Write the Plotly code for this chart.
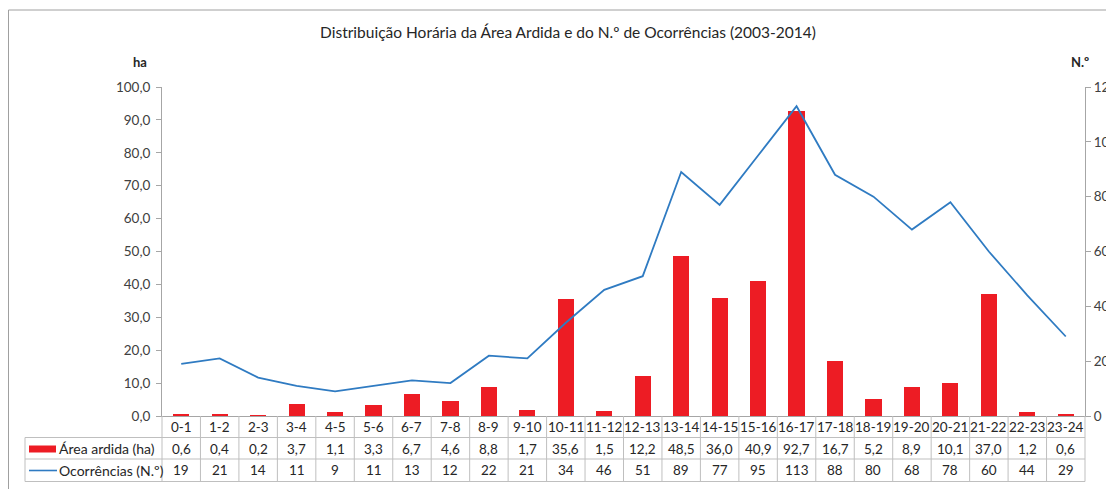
import plotly.graph_objects as go

# ---------------- data ----------------
hours = ["0-1", "1-2", "2-3", "3-4", "4-5", "5-6", "6-7", "7-8", "8-9", "9-10",
         "10-11", "11-12", "12-13", "13-14", "14-15", "15-16", "16-17", "17-18",
         "18-19", "19-20", "20-21", "21-22", "22-23", "23-24"]
area_ha = [0.6, 0.4, 0.2, 3.7, 1.1, 3.3, 6.7, 4.6, 8.8, 1.7, 35.6, 1.5, 12.2,
           48.5, 36.0, 40.9, 92.7, 16.7, 5.2, 8.9, 10.1, 37.0, 1.2, 0.6]
ocorrencias = [19, 21, 14, 11, 9, 11, 13, 12, 22, 21, 34, 46, 51, 89, 77, 95,
               113, 88, 80, 68, 78, 60, 44, 29]

title_text = "Distribuição Horária da Área Ardida e do N.º de Ocorrências (2003-2014)"
name_area = "Área ardida (ha)"
name_occ = "Ocorrências (N.º)"

# ---------------- style / layout constants ----------------
OFF = 8                      # page body margin
W, H = 1114 - OFF, 497 - 2 * OFF
# reference (window) pixel positions of plot area
RL, RR, RT, RB = 162, 1085, 87, 416
L, R, T, B = RL - OFF, RR - OFF, RT - OFF, RB - OFF
RED = "#ED1C24"
BLUE = "#2F7BC2"
GRID = "#BFBFBF"
AXC = "#A6A6A6"
TXT = "#262626"
FONT = "Lato"


def py(ypx):
    """window pixel y -> paper y"""
    return (B - (ypx - OFF)) / (B - T)


def px(xpx):
    """window pixel x -> paper x"""
    return ((xpx - OFF) - L) / (R - L)


fig = go.Figure()
fig.add_trace(go.Bar(x=hours, y=area_ha, name=name_area, marker_color=RED,
                     marker_line_width=0, width=0.42, yaxis="y"))
fig.add_trace(go.Scatter(x=hours, y=ocorrencias, name=name_occ, mode="lines",
                         line=dict(color=BLUE, width=1.8), yaxis="y2"))

shapes = []
annotations = []

# frame
shapes.append(dict(type="rect", xref="paper", yref="paper", x0=px(OFF + 0.5), x1=px(1300),
                   y0=py(700), y1=py(10), line=dict(color="#A0A0A0", width=1),
                   layer="below"))

# table rows (window pixel rows)
row_y = [416, 437.5, 459, 481.5]
for yy in row_y[1:]:
    shapes.append(dict(type="line", xref="paper", yref="paper", x0=px(25), x1=1,
                       y0=py(yy), y1=py(yy), line=dict(color=GRID, width=1)))
for i in range(1, len(hours)):
    shapes.append(dict(type="line", xref="x", yref="paper", x0=i - 0.5, x1=i - 0.5,
                       y0=py(row_y[0]), y1=py(row_y[-1]), line=dict(color=GRID, width=1)))
shapes.append(dict(type="line", xref="paper", yref="paper", x0=0, x1=0,
                   y0=py(row_y[0]), y1=py(row_y[-1]), line=dict(color=GRID, width=1)))
shapes.append(dict(type="line", xref="paper", yref="paper", x0=1, x1=1,
                   y0=py(row_y[0]), y1=py(row_y[-1]), line=dict(color=GRID, width=1)))
shapes.append(dict(type="line", xref="paper", yref="paper", x0=px(25), x1=px(25),
                   y0=py(row_y[1]), y1=py(row_y[-1]), line=dict(color=GRID, width=1)))

# legend keys
shapes.append(dict(type="rect", xref="paper", yref="paper", x0=px(29), x1=px(56),
                   y0=py(452.5), y1=py(445.5), fillcolor=RED, line=dict(width=0)))
shapes.append(dict(type="line", xref="paper", yref="paper", x0=px(29), x1=px(57),
                   y0=py(470.5), y1=py(470.5), line=dict(color=BLUE, width=1.6)))

tfont = dict(family=FONT, size=14, color=TXT)
hfont = dict(family=FONT, size=13.5, color=TXT)


def fmt(v):
    return f"{v:.1f}".replace(".", ",")


for h, a, o in zip(hours, area_ha, ocorrencias):
    for yy, txt in ((427, h), (448.5, fmt(a)), (470, str(o))):
        annotations.append(dict(x=h, xref="x", y=py(yy), yref="paper", text=txt,
                                xanchor="center", yanchor="middle",
                                showarrow=False, font=hfont))

annotations.append(dict(x=px(57), xref="paper", xanchor="left", y=py(448.5), yref="paper",
                        yanchor="middle", text=name_area, showarrow=False, font=tfont))
annotations.append(dict(x=px(57), xref="paper", xanchor="left", y=py(470), yref="paper",
                        yanchor="middle", text=name_occ, showarrow=False, font=tfont))

# axis unit labels
ufont = dict(family=FONT, size=13, color=TXT)
annotations.append(dict(x=px(140), xref="paper", xanchor="center", y=py(62), yref="paper",
                        yanchor="middle", text="<b>ha</b>", showarrow=False, font=ufont))
annotations.append(dict(x=px(1080), xref="paper", xanchor="center", y=py(62), yref="paper",
                        yanchor="middle", text="<b>N.º</b>", showarrow=False, font=ufont))

fig.update_layout(
    width=W, height=H,
    margin=dict(l=L, r=W - R, t=T, b=H - B, pad=0, autoexpand=False),
    paper_bgcolor="white", plot_bgcolor="white",
    separators=",.",
    showlegend=False,
    bargap=0,
    title=dict(text=title_text, x=(568 - OFF) / W, xanchor="center", xref="container",
               y=1 - (33 - OFF) / H, yanchor="middle", yref="container",
               font=dict(family=FONT, size=15.5, color=TXT)),
    xaxis=dict(type="category", range=[-0.5, len(hours) - 0.5], showticklabels=False,
               showgrid=False, zeroline=False, showline=True, linecolor=AXC,
               linewidth=1, ticks="", fixedrange=True, automargin=False),
    yaxis=dict(range=[0, 100], dtick=10, tickformat=".1f", showgrid=False,
               zeroline=False, showline=True, linecolor=AXC, linewidth=1,
               ticks="outside", ticklen=5, tickcolor=AXC, automargin=False,
               ticklabelstandoff=3,
               tickfont=dict(family=FONT, size=13.5, color="#404040")),
    yaxis2=dict(range=[0, 120], dtick=20, tickformat="d", overlaying="y", side="right",
                showgrid=False, zeroline=False, showline=True, linecolor=AXC,
                linewidth=1, ticks="outside", ticklen=5, tickcolor=AXC, automargin=False,
                ticklabelstandoff=0,
                tickfont=dict(family=FONT, size=13.5, color="#404040")),
    shapes=shapes,
    annotations=annotations,
    font=dict(family=FONT),
)

fig.write_html("out.html")
